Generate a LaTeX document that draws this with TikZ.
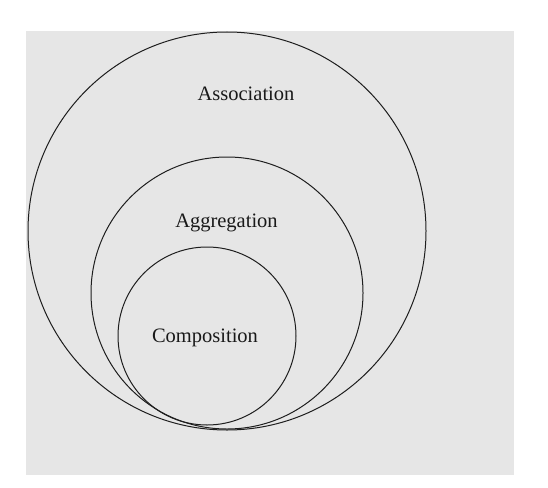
\documentclass[tikz,border=0pt]{standalone}
\usepackage{fontspec}
\setmainfont{Liberation Serif}
\definecolor{bggray}{RGB}{230,230,230}
\definecolor{linecol}{RGB}{30,30,30}
\begin{document}
\begin{tikzpicture}[x=1pt,y=-1pt,
  ring/.style={circle,draw=linecol,line width=1pt,inner sep=0pt},
  lbl/.style={anchor=base,inner sep=0pt,text=black!90,font=\fontsize{20.5}{24}\selectfont}]
\useasboundingbox (0,0) rectangle (548,487);
\fill[white] (0,0) rectangle (548,487);
\fill[bggray] (26,31) rectangle (514,475);
\node[ring,minimum size=398pt] (assoc) at (227,231) {};
\node[ring,minimum size=272pt] (aggr) at (227,293) {};
\node[ring,minimum size=178pt] (comp) at (207,336) {};
\node[lbl] (tassoc) at (246,100) {Association};
\node[lbl] (taggr) at (226.5,227) {Aggregation};
\node[lbl] (tcomp) at (205,342) {Composition};
\end{tikzpicture}
\end{document}
